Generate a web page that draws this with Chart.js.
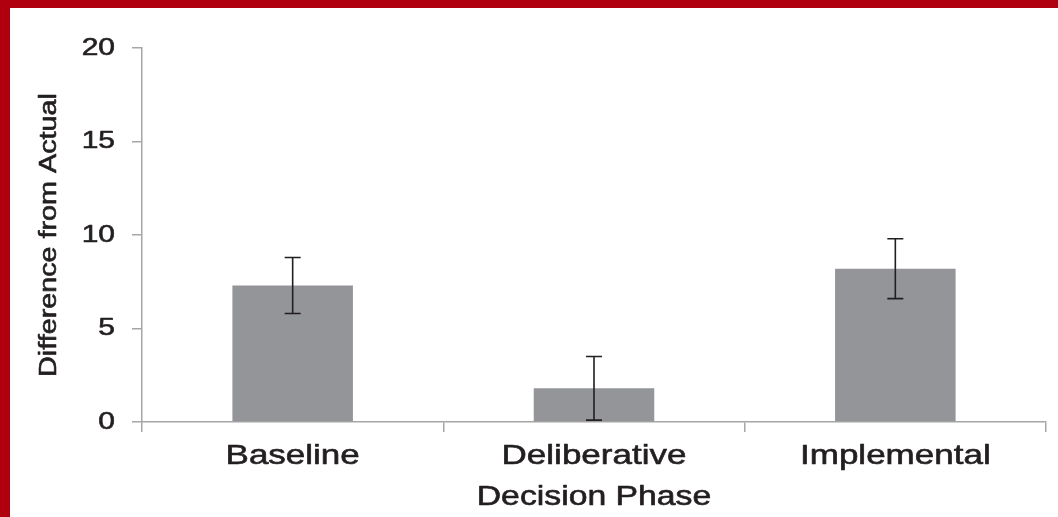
<!DOCTYPE html>
<html>
<head>
<meta charset="utf-8">
<title>Difference from Actual by Decision Phase</title>
<script src="https://cdn.jsdelivr.net/npm/chart.js@4.4.1/dist/chart.umd.min.js"></script>
<style>
  html, body { margin: 0; padding: 0; }
  body { width: 1058px; height: 517px; background: #b0000f; position: relative; overflow: hidden; }
  #frame { position: absolute; left: 10px; top: 8px; width: 1048px; height: 509px; background: #ffffff; }
  #chart { display: block; }
</style>
</head>
<body>
<div id="frame"><canvas id="chart" width="1048" height="509"></canvas></div>
<script>
// Decision phases and mean difference from actual, with standard errors
const phases = ['Baseline', 'Deliberative', 'Implemental'];
const meanDifference = [7.3, 1.8, 8.2];
const standardError = [1.5, 1.7, 1.6];
const yTicks = [0, 5, 10, 15, 20];

const TEXT_STRETCH = 1.25;   // wide lettering: glyphs drawn horizontally expanded
const TEXT_WEIGHT = 0.6;     // slight outline so the expanded glyphs keep their stroke weight
const INK = '#231f20';
const AXIS = '#a6a6a6';
const FONT = '"Liberation Sans", Arial, Helvetica, sans-serif';

const canvas = document.getElementById('chart');
const ctx = canvas.getContext('2d');

// Expand every label along its baseline (also in rotated titles)
const baseFill = CanvasRenderingContext2D.prototype.fillText;
const baseStroke = CanvasRenderingContext2D.prototype.strokeText;
const baseMeasure = CanvasRenderingContext2D.prototype.measureText;
ctx.fillText = function (text, x, y, maxWidth) {
  this.save();
  this.translate(x, y);
  this.scale(TEXT_STRETCH, 1);
  const limit = (maxWidth === undefined || maxWidth === null) ? undefined : maxWidth / TEXT_STRETCH;
  if (limit === undefined) baseFill.call(this, text, 0, 0);
  else baseFill.call(this, text, 0, 0, limit);
  this.strokeStyle = this.fillStyle;
  this.lineWidth = TEXT_WEIGHT;
  this.lineJoin = 'round';
  if (limit === undefined) baseStroke.call(this, text, 0, 0);
  else baseStroke.call(this, text, 0, 0, limit);
  this.restore();
};
ctx.measureText = function (text) {
  const m = baseMeasure.call(this, text);
  return {
    width: m.width * TEXT_STRETCH,
    actualBoundingBoxLeft: m.actualBoundingBoxLeft * TEXT_STRETCH,
    actualBoundingBoxRight: m.actualBoundingBoxRight * TEXT_STRETCH,
    actualBoundingBoxAscent: m.actualBoundingBoxAscent,
    actualBoundingBoxDescent: m.actualBoundingBoxDescent,
    fontBoundingBoxAscent: m.fontBoundingBoxAscent,
    fontBoundingBoxDescent: m.fontBoundingBoxDescent
  };
};

// Standard-error whiskers with flat caps
const errorBars = {
  id: 'errorBars',
  afterDatasetsDraw(chart) {
    const c = chart.ctx;
    const y = chart.scales.y;
    const meta = chart.getDatasetMeta(0);
    c.save();
    c.strokeStyle = INK;
    c.lineWidth = 1.6;
    meta.data.forEach((bar, i) => {
      const top = y.getPixelForValue(meanDifference[i] + standardError[i]);
      const bottom = y.getPixelForValue(meanDifference[i] - standardError[i]);
      const half = 8;
      c.beginPath();
      c.moveTo(bar.x, top); c.lineTo(bar.x, bottom);
      c.moveTo(bar.x - half, top); c.lineTo(bar.x + half, top);
      c.moveTo(bar.x - half, bottom); c.lineTo(bar.x + half, bottom);
      c.stroke();
    });
    c.restore();
  }
};

new Chart(canvas, {
  type: 'bar',
  data: {
    labels: phases,
    datasets: [{
      data: meanDifference,
      backgroundColor: '#939598',
      borderWidth: 0,
      categoryPercentage: 1.0,
      barPercentage: 0.4
    }]
  },
  options: {
    responsive: false,
    animation: false,
    devicePixelRatio: 1,
    layout: { padding: { top: 40, right: 12, bottom: 0, left: 0 } },
    plugins: { legend: { display: false }, tooltip: { enabled: false } },
    scales: {
      x: {
        offset: true,
        grid: { offset: true, drawOnChartArea: false, drawTicks: true, tickLength: 10, color: AXIS, lineWidth: 1.5 },
        border: { display: true, color: AXIS, width: 1.5 },
        ticks: { color: INK, padding: 7, font: { family: FONT, size: 28 }, maxRotation: 0 },
        title: { display: true, text: 'Decision Phase', color: INK, font: { family: FONT, size: 27 }, padding: { top: 0, bottom: 3 } },
        afterFit(scale) { scale.height = 95; }
      },
      y: {
        min: 0,
        max: 20,
        afterBuildTicks(scale) { scale.ticks = yTicks.map(v => ({ value: v })); },
        grid: { drawOnChartArea: false, drawTicks: true, tickLength: 10, color: AXIS, lineWidth: 1.5 },
        border: { display: true, color: AXIS, width: 1.5 },
        ticks: { color: INK, padding: 17, font: { family: FONT, size: 24 } },
        title: { display: true, text: 'Difference from Actual', color: INK, font: { family: FONT, size: 23 }, padding: { top: 26, bottom: 0 } },
        afterFit(scale) { scale.width = 132; }
      }
    }
  },
  plugins: [errorBars]
});
</script>
</body>
</html>
